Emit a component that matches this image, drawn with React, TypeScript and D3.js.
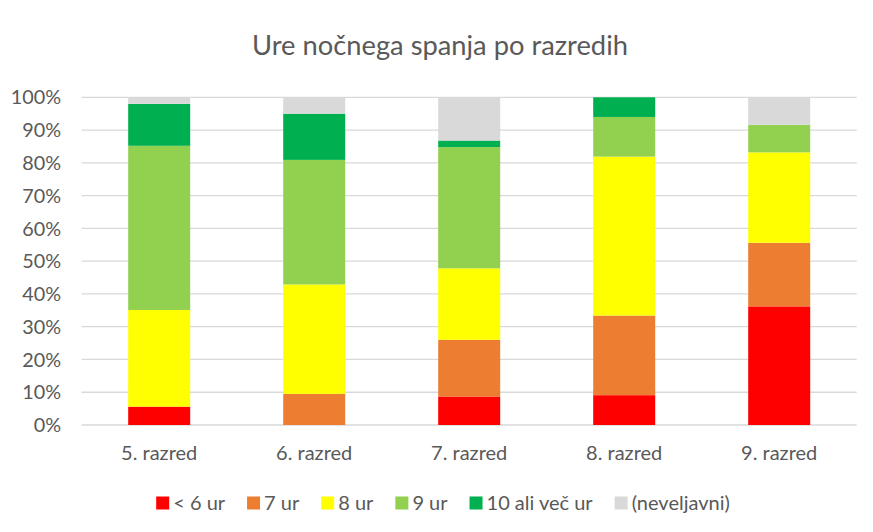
import React, { useEffect, useRef } from 'react';
import * as d3 from 'd3';

const title = 'Ure nočnega spanja po razredih';
const categories = ['5. razred', '6. razred', '7. razred', '8. razred', '9. razred'];
const seriesNames = ['< 6 ur', '7 ur', '8 ur', '9 ur', '10 ali več ur', '(neveljavni)'];
const under6 = [5.6, 0, 8.7, 9.1, 36.2];
const hours7 = [0, 9.5, 17.3, 24.3, 19.4];
const hours8 = [29.5, 33.4, 21.8, 48.5, 27.6];
const hours9 = [50.1, 38.0, 37.0, 12.1, 8.4];
const hours10 = [12.8, 14.1, 2.0, 6.0, 0];
const invalid = [2.0, 5.0, 13.2, 0, 8.4];
const yTicks = [0, 10, 20, 30, 40, 50, 60, 70, 80, 90, 100];
const colors = ['#FF0000', '#ED7D31', '#FFFF00', '#92D050', '#00B050', '#D9D9D9'];

const W = 873;
const H = 532;
const FONT = 'Lato, "Open Sans", sans-serif';
const TEXT = '#595959';

export default function App() {
  const ref = useRef<SVGSVGElement>(null);

  useEffect(() => {
    const svg = d3.select(ref.current);
    svg.selectAll('*').remove();

    const seriesValues = [under6, hours7, hours8, hours9, hours10, invalid];
    const rows = categories.map((c, i) => {
      const r: any = { cat: c };
      seriesNames.forEach((s, k) => (r[s] = seriesValues[k][i]));
      return r;
    });
    const stacked = d3.stack().keys(seriesNames)(rows);

    const x = d3.scaleBand().domain(categories).range([81.7, 856.7]).paddingInner(0.6).paddingOuter(0.3);
    const y = d3.scaleLinear().domain([0, 100]).range([425, 97.3]);

    // title
    svg.append('text')
      .attr('x', 440).attr('y', 55)
      .attr('text-anchor', 'middle')
      .attr('font-family', FONT).attr('font-size', 27.3)
      .attr('fill', TEXT)
      .text(title);

    // grid
    svg.append('g').selectAll('line').data(yTicks).join('line')
      .attr('x1', 81.7).attr('x2', 856.7)
      .attr('y1', d => y(d)).attr('y2', d => y(d))
      .attr('stroke', '#D9D9D9').attr('stroke-width', 1.3);

    // y labels
    svg.append('g').selectAll('text').data(yTicks).join('text')
      .attr('x', 61).attr('y', d => y(d)).attr('dy', '0.36em')
      .attr('text-anchor', 'end')
      .attr('font-family', FONT).attr('font-size', 19.8)
      .attr('fill', TEXT)
      .text(d => `${d}%`);

    // bars
    svg.append('g').selectAll('g').data(stacked).join('g')
      .attr('fill', (_d, i) => colors[i])
      .selectAll('rect').data(d => d).join('rect')
      .attr('x', d => x((d.data as any).cat)!)
      .attr('width', x.bandwidth())
      .attr('y', d => y(d[1]))
      .attr('height', d => y(d[0]) - y(d[1]));

    // x labels
    svg.append('g').selectAll('text').data(categories).join('text')
      .attr('x', d => x(d)! + x.bandwidth() / 2).attr('y', 460)
      .attr('text-anchor', 'middle')
      .attr('font-family', FONT).attr('font-size', 20)
      .attr('fill', TEXT)
      .text(d => d);

    // legend
    const lg = svg.append('g');
    const sq = 13, gapText = 4, gapItem = 22;
    let cx = 0;
    seriesNames.forEach((s, i) => {
      const g = lg.append('g');
      g.append('rect').attr('x', 0).attr('y', -sq / 2).attr('width', sq).attr('height', sq).attr('fill', colors[i]);
      const t = g.append('text').attr('x', sq + gapText).attr('y', 0).attr('dy', '0.36em')
        .attr('font-family', FONT).attr('font-size', 20).attr('fill', TEXT).text(s);
      const w = (t.node() as SVGTextElement).getComputedTextLength();
      g.attr('transform', `translate(${cx},0)`);
      cx += sq + gapText + w + gapItem;
    });
    const total = cx - gapItem;
    lg.attr('transform', `translate(${443 - total / 2},${503})`);
  }, []);

  return (
    <svg ref={ref} width={W} height={H} style={{ position: 'absolute', left: 0, top: 0, background: '#fff' }} />
  );
}
